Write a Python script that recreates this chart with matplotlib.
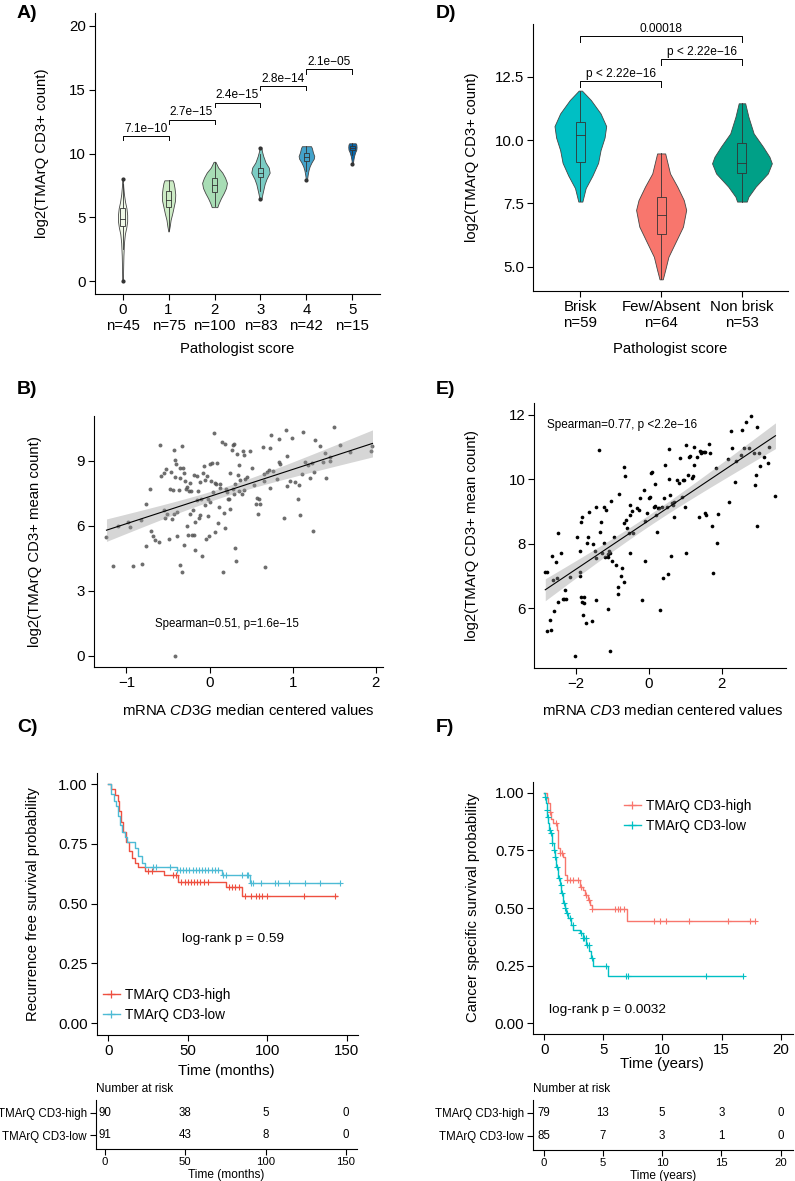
import numpy as np
import matplotlib
matplotlib.use('Agg')
import matplotlib.pyplot as plt
from matplotlib.lines import Line2D

plt.rcParams['font.family'] = ['Liberation Sans', 'DejaVu Sans']
plt.rcParams['mathtext.fontset'] = 'custom'
plt.rcParams['mathtext.rm'] = 'Liberation Sans'
plt.rcParams['mathtext.it'] = 'Liberation Sans:italic'
plt.rcParams['axes.linewidth'] = 0.8
plt.rcParams['xtick.major.size'] = 4
plt.rcParams['ytick.major.size'] = 4
plt.rcParams['xtick.major.width'] = 0.8
plt.rcParams['ytick.major.width'] = 0.8
plt.rcParams['xtick.major.pad'] = 2.5
plt.rcParams['ytick.major.pad'] = 2.5

# ---------------- A) violins by pathologist score
a_scores = ['0', '1', '2', '3', '4', '5']
a_n = [45, 75, 100, 83, 42, 15]
a_colors = ['#f0f9e8', '#ccebc5', '#a8ddb5', '#7bccc4', '#43a2ca', '#0868ac']
a_viol_y = [[0.0, 1.0, 2.0, 3.0, 3.7, 4.2, 4.7, 5.2, 5.7, 6.2, 6.8, 7.4, 8.0],
            [3.9, 4.3, 4.8, 5.3, 5.8, 6.3, 6.8, 7.3, 7.7, 7.9],
            [5.8, 6.1, 6.5, 6.9, 7.3, 7.7, 8.1, 8.5, 8.9, 9.35],
            [6.4, 6.8, 7.2, 7.6, 8.0, 8.5, 8.9, 9.3, 9.8, 10.2, 10.5],
            [7.9, 8.3, 8.7, 9.0, 9.3, 9.6, 9.8, 10.1, 10.4, 10.57],
            [9.2, 9.5, 9.8, 10.1, 10.3, 10.5, 10.7, 10.8]]
a_viol_w = [[0.008, 0.012, 0.018, 0.03, 0.05, 0.08, 0.1, 0.1, 0.085, 0.055, 0.03, 0.015, 0.006],
            [0.005, 0.025, 0.045, 0.08, 0.11, 0.14, 0.146, 0.13, 0.11, 0.09],
            [0.06, 0.09, 0.14, 0.2, 0.25, 0.27, 0.23, 0.17, 0.08, 0.02],
            [0.02, 0.04, 0.065, 0.09, 0.13, 0.2, 0.18, 0.11, 0.06, 0.03, 0.02],
            [0.01, 0.025, 0.045, 0.07, 0.11, 0.16, 0.17, 0.14, 0.12, 0.1],
            [0.01, 0.02, 0.035, 0.06, 0.085, 0.09, 0.085, 0.07]]
# q1, median, q3, lower whisker, upper whisker
a_box = [(4.3, 4.85, 5.7, 2.5, 7.6), (5.8, 6.35, 7.05, 4.0, 7.9), (7.0, 7.55, 8.1, 5.9, 9.3),
         (8.15, 8.5, 8.9, 7.1, 10.0), (9.45, 9.75, 10.05, 8.6, 10.55), (10.25, 10.4, 10.6, 9.9, 10.8)]
a_outliers = [[0.0, 8.0], [], [], [6.4, 10.4], [7.9], [9.2]]
a_pvals = ['7.1e\u221210', '2.7e\u221215', '2.4e\u221215', '2.8e\u221214', '2.1e\u221205']
a_bracket_y = [11.36, 12.66, 13.97, 15.27, 16.58]

# ---------------- D) violins by category
d_groups = ['Brisk', 'Few/Absent', 'Non brisk']
d_n = [59, 64, 53]
d_colors = ['#00BFC4', '#F8766D', '#00A087']
d_viol_y = [[7.57, 8.1, 8.6, 9.1, 9.6, 10.1, 10.55, 11.05, 11.58, 11.95],
            [4.5, 4.87, 5.39, 6.05, 6.58, 7.24, 7.63, 8.16, 8.68, 9.47],
            [7.57, 7.76, 8.16, 8.68, 9.08, 9.34, 9.74, 10.26, 10.92, 11.45]]
d_viol_w = [[0.025, 0.066, 0.15, 0.22, 0.25, 0.3, 0.32, 0.25, 0.13, 0.02],
            [0.02, 0.05, 0.09, 0.19, 0.27, 0.31, 0.28, 0.2, 0.11, 0.05],
            [0.06, 0.08, 0.17, 0.32, 0.37, 0.34, 0.26, 0.145, 0.08, 0.04]]
d_box = [(9.12, 10.2, 10.72, 7.6, 11.95), (6.28, 7.05, 7.75, 4.5, 9.47), (8.68, 9.1, 9.87, 7.57, 11.45)]
d_pairs = [(1, 2), (2, 3), (1, 3)]
d_plabels = ['p < 2.22e\u221216', 'p < 2.22e\u221216', '0.00018']
d_bracket_y = [12.33, 13.2, 14.1]

# ---------------- B) CD3G mRNA vs TMArQ
b_x = [-1.24, -1.16, -1.10, -0.98, -0.96, -0.92, -0.81, -0.82, -0.77, -0.76, -0.72, -0.71, -0.68, -0.66,
       -0.61, -0.60, -0.59, -0.55, -0.55, -0.53, -0.52, -0.51, -0.49, -0.48, -0.46, -0.45, -0.44, -0.43,
       -0.43, -0.42, -0.41, -0.40, -0.39, -0.39, -0.37, -0.36, -0.35, -0.35, -0.33, -0.33, -0.32, -0.31,
       -0.31, -0.29, -0.28, -0.27, -0.27, -0.26, -0.25, -0.24, -0.23, -0.22, -0.21, -0.20, -0.19, -0.19,
       -0.18, -0.17, -0.15, -0.15, -0.14, -0.13, -0.12, -0.11, -0.10, -0.09, -0.08, -0.07, -0.06, -0.05,
       -0.04, -0.03, -0.02, -0.02, -0.01, 0.00, 0.01, 0.02, 0.03, 0.04, 0.05, 0.06, 0.06, 0.08, 0.09,
       0.10, 0.11, 0.12, 0.13, 0.15, 0.16, 0.17, 0.18, 0.19, 0.20, 0.21, 0.22, 0.23, 0.24, 0.25, 0.27,
       0.28, 0.28, 0.29, 0.30, 0.31, 0.31, 0.32, 0.33, 0.34, 0.35, 0.36, 0.37, 0.39, 0.40, 0.41, 0.42,
       0.43, 0.45, 0.49, 0.51, 0.53, 0.56, 0.57, 0.58, 0.59, 0.61, 0.64, 0.65, 0.66, 0.67, 0.69, 0.71,
       0.73, 0.73, 0.74, 0.76, 0.81, 0.83, 0.84, 0.85, 0.90, 0.92, 0.93, 0.93, 0.97, 0.99, 1.03, 1.06,
       1.08, 1.09, 1.11, 1.12, 1.15, 1.19, 1.21, 1.23, 1.25, 1.26, 1.27, 1.33, 1.37, 1.39, 1.40, 1.45,
       1.45, 1.50, 1.57, 1.69, 1.94, 1.96, -0.42]
b_y = [5.49, 4.15, 6.00, 6.18, 5.95, 4.15, 4.23, 6.26, 5.06, 7.00, 7.69, 5.75, 5.54, 5.37,
       5.26, 9.74, 8.32, 6.75, 8.45, 6.37, 8.62, 6.54, 5.38, 7.69, 8.48, 6.34, 7.68, 9.52,
       6.54, 9.03, 8.26, 8.88, 6.63, 5.54, 7.68, 8.68, 4.18, 8.22, 3.88, 9.68, 8.68, 8.45,
       5.11, 8.08, 7.69, 7.80, 6.00, 5.57, 7.60, 6.57, 8.00, 7.60, 5.58, 6.72, 8.34, 5.60,
       6.18, 4.88, 7.18, 8.31, 7.62, 6.38, 8.03, 6.51, 7.23, 4.62, 8.46, 8.75, 8.11, 6.95,
       5.38, 8.32, 6.48, 7.22, 5.52, 8.85, 7.11, 8.06, 8.92, 7.57, 10.29, 7.98, 5.72, 7.95, 8.91,
       6.14, 6.88, 7.95, 7.74, 9.88, 3.88, 6.60, 9.80, 5.92, 7.69, 7.57, 7.26, 7.26, 8.46, 6.80, 9.49,
       9.72, 7.72, 7.46, 9.77, 5.00, 7.92, 4.38, 9.34, 8.34, 7.60, 8.83, 8.11, 7.46, 9.45, 9.26, 7.65,
       8.18, 8.26, 9.46, 8.69, 7.88, 7.00, 7.31, 6.57, 7.22, 7.03, 9.65, 8.06, 8.42, 4.08, 8.49, 8.57,
       9.62, 7.77, 10.18, 8.52, 8.18, 8.95, 10.03, 8.88, 6.38, 10.42, 7.85, 9.23, 8.06, 10.05, 8.03, 7.26,
       7.88, 6.52, 8.42, 10.34, 8.95, 8.83, 8.23, 8.91, 5.75, 8.49, 9.97, 9.71, 8.95, 9.37, 8.23, 9.18,
       9.00, 10.57, 9.75, 9.42, 9.46, 9.68, 0.0]

# ---------------- E) CD3 mRNA vs TMArQ
e_x = [-2.83, -2.77, -2.71, -2.68, -2.65, -2.62, -2.60, -2.53, -2.51, -2.49, -2.47, -2.39, -2.35, -2.33,
       -2.28, -2.26, -2.16, -1.95, -1.89, -1.87, -1.87, -1.85, -1.84, -1.83, -1.83, -1.81, -1.78, -1.78,
       -1.71, -1.69, -1.67, -1.63, -1.55, -1.53, -1.46, -1.45, -1.43, -1.43, -1.37, -1.32, -1.31, -1.28,
       -1.23, -1.23, -1.19, -1.16, -1.12, -1.11, -1.10, -1.08, -1.05, -1.03, -0.99, -0.96, -0.89, -0.85,
       -0.85, -0.82, -0.76, -0.73, -0.68, -0.68, -0.67, -0.64, -0.61, -0.58, -0.55, -0.52, -0.50, -0.50,
       -0.46, -0.43, -0.32, -0.27, -0.23, -0.18, -0.14, -0.09, -0.09, -0.05, 0.00, 0.03, 0.06, 0.09,
       0.14, 0.16, 0.18, 0.21, 0.23, 0.25, 0.27, 0.32, 0.37, 0.39, 0.43, 0.46, 0.50, 0.52, 0.55, 0.55,
       0.59, 0.61, 0.64, 0.67, 0.68, 0.70, 0.78, 0.82, 0.85, 0.91, 0.94, 0.98, 1.00, 1.01, 1.03, 1.07,
       1.10, 1.14, 1.19, 1.21, 1.23, 1.25, 1.32, 1.37, 1.40, 1.42, 1.46, 1.51, 1.53, 1.55, 1.58, 1.64,
       1.67, 1.74, 1.76, 1.85, 1.87, 1.89, 2.16, 2.21, 2.24, 2.28, 2.37, 2.40, 2.53, 2.56, 2.60, 2.65,
       2.74, 2.79, 2.88, 2.92, 2.95, 2.97, 2.97, 3.01, 3.06, 3.15, 3.27, 3.29, 3.47, -2.79, -2.01, -1.07]
e_y = [7.11, 7.11, 5.65, 5.34, 7.62, 6.89, 5.91, 7.42, 6.95, 8.34, 6.20, 7.72, 6.28, 6.30,
       6.56, 6.30, 6.98, 8.22, 7.13, 7.01, 7.77, 8.68, 6.36, 8.84, 6.18, 5.79, 6.17, 6.36,
       5.56, 8.01, 8.20, 8.99, 5.61, 7.99, 7.77, 6.25, 9.13, 7.55, 10.90, 8.37, 8.66, 7.70,
       8.01, 9.13, 7.60, 9.04, 5.99, 7.67, 7.60, 7.77, 7.72, 9.32, 7.47, 8.22, 7.34, 6.44,
       6.67, 9.53, 7.00, 7.24, 6.82, 10.39, 8.63, 10.10, 8.75, 8.48, 8.32, 8.89, 9.20, 7.70,
       9.00, 8.32, 9.10, 9.06, 9.41, 6.25, 9.66, 8.71, 7.47, 8.94, 9.41, 9.46, 10.20, 10.23,
       9.15, 9.18, 9.85, 8.89, 8.37, 9.10, 9.12, 5.96, 9.15, 6.95, 9.43, 10.44, 9.13, 7.05, 9.99, 10.93,
       9.51, 7.62, 9.27, 9.21, 8.82, 9.30, 9.97, 9.87, 10.65, 9.46, 9.97, 9.97, 9.15, 7.70, 11.06, 10.13,
       10.70, 10.72, 10.05, 10.10, 11.01, 10.44, 10.70, 8.82, 10.87, 10.80, 10.85, 10.84, 10.83, 8.94, 8.89, 11.09,
       10.82, 8.55, 7.10, 10.34, 8.01, 8.91, 10.63, 9.30, 11.49, 10.96, 9.92, 10.57, 10.75, 11.52, 10.98, 11.78,
       10.96, 11.97, 10.80, 9.82, 10.13, 11.63, 8.55, 10.80, 10.41, 10.68, 10.51, 11.01, 9.48, 5.29, 4.52, 4.68]

# ---------------- C) recurrence free survival (months)
c_time_high = [0, 2, 4, 6, 7, 8, 9, 11, 13, 15, 17, 19, 23, 35, 44, 74, 84]
c_surv_high = [1.0, 0.978, 0.956, 0.93, 0.89, 0.84, 0.80, 0.76, 0.72, 0.69, 0.67, 0.655, 0.636, 0.618,
               0.59, 0.57, 0.532]
c_end_high = 143.6
c_cens_high = [25, 27.5, 41, 42.5, 45.5, 48, 50, 52, 54, 56, 58, 60, 63, 76, 78, 80, 82, 86, 90, 93, 95,
               97, 100, 123, 142.5]
c_time_low = [0, 2, 3.5, 4.6, 5.9, 7.3, 8.4, 10.5, 11.5, 16.8, 18.9, 21, 23, 43, 71.7, 89]
c_surv_low = [1.0, 0.96, 0.93, 0.91, 0.865, 0.83, 0.80, 0.78, 0.76, 0.733, 0.70, 0.67, 0.654, 0.643,
              0.622, 0.585]
c_end_low = 145.7
c_cens_low = [28, 30, 39, 43.5, 45, 47, 49, 51, 53, 55, 57, 59, 61, 63, 65, 67, 69, 72, 74, 84, 87, 88,
              90, 91, 96, 105, 106.5, 114, 124, 133, 145.7]
c_risk_times = [0, 50, 100, 150]
c_risk_high = [90, 38, 5, 0]
c_risk_low = [91, 43, 8, 0]

# ---------------- F) cancer specific survival (years)
f_time_high = [0, 0.2, 0.35, 0.5, 0.6, 0.75, 1.1, 1.15, 1.2, 1.3, 1.6, 1.75, 1.9, 3.0, 3.3, 3.45, 3.7,
               3.85, 4.0, 7.0]
f_surv_high = [1.0, 0.976, 0.954, 0.918, 0.885, 0.867, 0.838, 0.79, 0.76, 0.738, 0.723, 0.644, 0.622,
               0.593, 0.579, 0.557, 0.536, 0.514, 0.497, 0.442]
f_end_high = 17.8
f_cens_high = [0.53, 0.98, 1.37, 1.54, 1.95, 2.2, 2.4, 2.85, 3.1, 3.55, 3.75, 4.05, 6.0, 6.2, 6.4, 6.77,
               9.3, 9.8, 10.3, 12.2, 15.5, 17.4, 17.8]
f_time_low = [0, 0.05, 0.14, 0.2, 0.25, 0.34, 0.42, 0.53, 0.62, 0.81, 0.9, 1.03, 1.17, 1.31, 1.45, 1.6,
              1.73, 1.87, 2.0, 2.29, 2.43, 3.0, 3.27, 3.55, 3.83, 3.97, 4.1, 5.37]
f_surv_low = [1.0, 0.983, 0.954, 0.925, 0.896, 0.867, 0.84, 0.824, 0.78, 0.752, 0.723, 0.68, 0.63, 0.60,
              0.565, 0.52, 0.50, 0.478, 0.456, 0.428, 0.406, 0.392, 0.37, 0.341, 0.312, 0.283, 0.25, 0.207]
f_end_low = 16.8
f_cens_low = [0.1, 0.22, 0.3, 0.45, 0.56, 0.7, 0.85, 0.95, 1.1, 1.25, 1.4, 1.5, 1.65, 1.8, 1.95, 2.15,
              2.4, 3.1, 3.3, 3.35, 3.5, 3.6, 3.75, 4.02, 5.2, 6.95, 7.05, 13.7, 16.8]
f_risk_times = [0, 5, 10, 15, 20]
f_risk_high = [79, 13, 5, 3, 0]
f_risk_low = [85, 7, 3, 1, 0]

km_labels = ['TMArQ CD3-high', 'TMArQ CD3-low']

W, H = 795.0, 1181.0
TICK = 10.8
LAB = 10.7
RISK = 8.3


def box(l, t, r, b):
    # pixel box -> figure fraction
    return [l / W, 1 - b / H, (r - l) / W, (b - t) / H]


def classic(ax, size=TICK):
    for s in ['top', 'right']:
        ax.spines[s].set_visible(False)
    ax.tick_params(labelsize=size, colors='black')


def violins(ax, ys, ws, boxes, colors, hwbox):
    for i in range(len(ys)):
        x0 = i + 1 if len(ys) == 3 else i
        y = np.array(ys[i])
        w = np.array(ws[i])
        ax.fill_betweenx(y, x0 - w, x0 + w, facecolor=colors[i], edgecolor='#454545', lw=0.6, zorder=2)
        q1, med, q3, lo, hi = boxes[i]
        ax.plot([x0, x0], [lo, q1], color='#333333', lw=0.6, zorder=3)
        ax.plot([x0, x0], [q3, hi], color='#333333', lw=0.6, zorder=3)
        ax.add_patch(plt.Rectangle((x0 - hwbox, q1), 2 * hwbox, q3 - q1, facecolor=colors[i],
                                   edgecolor='#333333', lw=0.6, zorder=3))
        ax.plot([x0 - hwbox, x0 + hwbox], [med, med], color='#333333', lw=0.6, zorder=4)


def bracket(ax, x1, x2, y, tip, label, fs, gap):
    ax.plot([x1, x1, x2, x2], [y - tip, y, y, y - tip], color='black', lw=0.7)
    ax.text((x1 + x2) / 2, y + gap, label, ha='center', va='bottom', fontsize=fs)


def lm_band(x, y, xs):
    x = np.asarray(x)
    y = np.asarray(y)
    b1, b0 = np.polyfit(x, y, 1)
    fit = b0 + b1 * xs
    res = y - (b0 + b1 * x)
    s = np.sqrt(np.sum(res ** 2) / (len(x) - 2))
    se = s * np.sqrt(1.0 / len(x) + (xs - x.mean()) ** 2 / np.sum((x - x.mean()) ** 2))
    return fit, 1.97 * se


def km(ax, times, surv, end, cens, color):
    t = np.append(times, end)
    s = np.append(surv, surv[-1])
    ax.step(t, s, where='post', color=color, lw=1.0)
    idx = np.searchsorted(times, cens, side='right') - 1
    ax.plot(cens, np.array(surv)[idx], ls='none', marker='+', ms=5, mew=0.8, color=color)


def risk_table(ax, times, high, low, xlim, xlab, ylab_y):
    classic(ax, 8.2)
    ax.tick_params(axis='x', pad=1.5)
    for t, h, l in zip(times, high, low):
        ax.text(t, 1, str(h), ha='center', va='center', fontsize=RISK)
        ax.text(t, 0, str(l), ha='center', va='center', fontsize=RISK)
    ax.set_xlim(*xlim)
    ax.set_ylim(-0.609, 1.565)
    ax.set_xticks(times)
    ax.set_yticks([1, 0])
    ax.set_yticklabels(km_labels, fontsize=RISK)
    ax.text(0, 1.1, 'Number at risk', transform=ax.transAxes, ha='left', va='bottom', fontsize=8.6)
    ax.set_xlabel(xlab, fontsize=8.6, labelpad=0)
    ax.xaxis.set_label_coords(0.5, ylab_y)


fig = plt.figure(figsize=(7.95, 11.81), dpi=100, facecolor='white')

# ===== A
ax = fig.add_axes(box(95, 13, 380, 294))
classic(ax)
violins(ax, a_viol_y, a_viol_w, a_box, a_colors, 0.05)
for i, outs in enumerate(a_outliers):
    ax.plot([i] * len(outs), outs, ls='none', marker='o', ms=2, color='#333333', zorder=5)
for i in range(5):
    bracket(ax, i, i + 1, a_bracket_y[i], 0.33, a_pvals[i], 8.6, 0.12)
ax.set_xlim(-0.6, 5.6)
ax.set_ylim(-1.0, 21.0)
ax.set_yticks([0, 5, 10, 15, 20])
ax.set_xticks(range(6))
ax.set_xticklabels(['%s\nn=%d' % (s, n) for s, n in zip(a_scores, a_n)], linespacing=1.2)
ax.set_xlabel('Pathologist score', fontsize=LAB)
ax.set_ylabel('log2(TMArQ CD3+ count)', fontsize=LAB)
ax.yaxis.set_label_coords(-0.161, 0.5)
ax.xaxis.set_label_coords(0.5, -0.171)

# ===== D
ax = fig.add_axes(box(533, 24, 788, 291))
classic(ax)
violins(ax, d_viol_y, d_viol_w, d_box, d_colors, 0.056)
for (g1, g2), lab, yb in zip(d_pairs, d_plabels, d_bracket_y):
    bracket(ax, g1, g2, yb, 0.24, lab, 8.6, 0.03)
ax.set_xlim(0.414, 3.57)
ax.set_ylim(4.04, 14.58)
ax.set_yticks([5.0, 7.5, 10.0, 12.5])
ax.set_yticklabels(['5.0', '7.5', '10.0', '12.5'])
ax.set_xticks([1, 2, 3])
ax.set_xticklabels(['%s\nn=%d' % (g, n) for g, n in zip(d_groups, d_n)], linespacing=1.2)
ax.set_xlabel('Pathologist score', fontsize=LAB)
ax.set_ylabel('log2(TMArQ CD3+ count)', fontsize=LAB)
ax.yaxis.set_label_coords(-0.212, 0.5)
ax.xaxis.set_label_coords(0.537, -0.191)

# ===== B
ax = fig.add_axes(box(94, 416, 383.3, 666.7))
classic(ax)
ax.scatter(b_x, b_y, s=8, color='#555555', alpha=0.85, linewidths=0, zorder=2)
xs = np.linspace(min(b_x), max(b_x), 100)
fit, ci = lm_band(b_x, b_y, xs)
ax.fill_between(xs, fit - ci, fit + ci, color='#999999', alpha=0.4, lw=0, zorder=3)
ax.plot(xs, fit, color='black', lw=0.8, zorder=4)
ax.text(0.21, 1.46, 'Spearman=0.51, p=1.6e\u221215', ha='center', va='center', fontsize=8.3)
ax.set_xlim(-1.39, 2.09)
ax.set_ylim(-0.51, 11.08)
ax.set_yticks([0, 3, 6, 9])
ax.set_xticks([-1, 0, 1, 2])
ax.set_xlabel('mRNA $\\mathit{CD3G}$ median centered values', fontsize=LAB)
ax.set_ylabel('log2(TMArQ CD3+ mean count)', fontsize=LAB)
ax.yaxis.set_label_coords(-0.18, 0.5)
ax.xaxis.set_label_coords(0.532, -0.145)

# ===== E
ax = fig.add_axes(box(534.3, 403.3, 785.7, 667.7))
classic(ax)
ax.scatter(e_x, e_y, s=7, color='black', linewidths=0, zorder=2)
xs = np.linspace(min(e_x), max(e_x), 100)
fit, ci = lm_band(e_x, e_y, xs)
ax.fill_between(xs, fit - ci, fit + ci, color='#999999', alpha=0.4, lw=0, zorder=3)
ax.plot(xs, fit, color='black', lw=0.8, zorder=4)
ax.text(-2.78, 11.68, 'Spearman=0.77, p <2.2e\u221216', ha='left', va='center', fontsize=8.5)
ax.set_xlim(-3.13, 3.75)
ax.set_ylim(4.16, 12.35)
ax.set_yticks([6, 8, 10, 12])
ax.set_xticks([-2, 0, 2])
ax.set_xlabel('mRNA $\\mathit{CD3}$ median centered values', fontsize=LAB)
ax.set_ylabel('log2(TMArQ CD3+ mean count)', fontsize=LAB)
ax.yaxis.set_label_coords(-0.22, 0.5)
ax.xaxis.set_label_coords(0.51, -0.134)

# ===== C
c_cols = ['#EE5040', '#4DBBD5']
ax = fig.add_axes(box(96.7, 773, 358.3, 1035.3))
classic(ax)
km(ax, c_time_high, c_surv_high, c_end_high, c_cens_high, c_cols[0])
km(ax, c_time_low, c_surv_low, c_end_low, c_cens_low, c_cols[1])
ax.text(78.4, 0.351, 'log-rank p = 0.59', ha='center', va='center', fontsize=9.7)
handles = [Line2D([], [], color=c, marker='+', ms=6, mew=0.9, lw=1.0) for c in c_cols]
ax.legend(handles, km_labels, loc='center left', bbox_to_anchor=(0.025, 0.115), frameon=False,
          fontsize=9.8, handlelength=1.2, handletextpad=0.4, labelspacing=0.45, borderpad=0,
          borderaxespad=0)
ax.set_xlim(-7.3, 157.3)
ax.set_ylim(-0.051, 1.047)
ax.set_xticks([0, 50, 100, 150])
ax.set_yticks([0, 0.25, 0.5, 0.75, 1.0])
ax.set_yticklabels(['0.00', '0.25', '0.50', '0.75', '1.00'])
ax.set_xlabel('Time (months)', fontsize=10.8)
ax.set_ylabel('Recurrence free survival probability', fontsize=LAB)
ax.yaxis.set_label_coords(-0.217, 0.5)
ax.xaxis.set_label_coords(0.497, -0.111)

ax = fig.add_axes(box(96, 1100, 357, 1149.3))
risk_table(ax, c_risk_times, c_risk_high, c_risk_low, (-5.6, 157), 'Time (months)', -0.4)

# ===== F
f_cols = ['#F8766D', '#00BFC4']
ax = fig.add_axes(box(533.3, 781.7, 793, 1034.3))
classic(ax)
km(ax, f_time_high, f_surv_high, f_end_high, f_cens_high, f_cols[0])
km(ax, f_time_low, f_surv_low, f_end_low, f_cens_low, f_cols[1])
ax.text(0.4, 0.057, 'log-rank p = 0.0032', ha='left', va='center', fontsize=9.7)
handles = [Line2D([], [], color=c, marker='+', ms=6, mew=0.9, lw=1.0) for c in f_cols]
ax.legend(handles, km_labels, loc='center left', bbox_to_anchor=(0.35, 0.865), frameon=False,
          fontsize=9.8, handlelength=1.2, handletextpad=0.4, labelspacing=0.45, borderpad=0,
          borderaxespad=0)
ax.set_xlim(-0.92, 21.03)
ax.set_ylim(-0.048, 1.048)
ax.set_xticks([0, 5, 10, 15, 20])
ax.set_yticks([0, 0.25, 0.5, 0.75, 1.0])
ax.set_yticklabels(['0.00', '0.25', '0.50', '0.75', '1.00'])
ax.set_xlabel('Time (years)', fontsize=10.8)
ax.set_ylabel('Cancer specific survival probability', fontsize=LAB)
ax.yaxis.set_label_coords(-0.204, 0.5)
ax.xaxis.set_label_coords(0.497, -0.09)

ax = fig.add_axes(box(532.7, 1100, 793, 1150))
risk_table(ax, f_risk_times, f_risk_high, f_risk_low, (-0.92, 21.03), 'Time (years)', -0.4)

# panel letters
for lab, px, py in [('A)', 17, 13), ('B)', 17, 389), ('C)', 17, 727),
                    ('D)', 436, 13), ('E)', 436, 390), ('F)', 436, 727)]:
    fig.text(px / W, 1 - py / H, lab, fontsize=14, fontweight='bold', ha='left', va='center')

plt.savefig('out.png', dpi=100)
